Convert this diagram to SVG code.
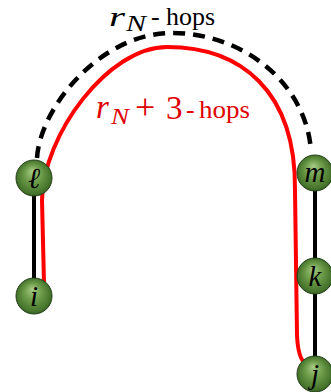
<svg xmlns="http://www.w3.org/2000/svg" width="331" height="392" viewBox="0 0 331 392">
<style>
.lbl{font-family:"Liberation Serif","DejaVu Serif",serif;font-style:italic;font-size:29px;fill:#000;text-anchor:middle}
.ball{fill:url(#g);stroke:#24401a;stroke-width:1}
.link{stroke:#000;stroke-width:4;fill:none}
.math{font-family:"Liberation Serif","DejaVu Serif",serif;font-style:italic}
.rm{font-family:"Liberation Serif","DejaVu Serif",serif}
</style>
<defs>
<radialGradient id="g" cx="0.5" cy="0.5" r="0.55" fx="0.45" fy="0.3">
<stop offset="0" stop-color="#a6cc86"/>
<stop offset="0.45" stop-color="#6b9a48"/>
<stop offset="0.85" stop-color="#45732b"/>
<stop offset="1" stop-color="#2c4f1c"/>
</radialGradient>
</defs>
<g id="connectors">
<line class="link" x1="34" y1="178" x2="34" y2="296"/>
<line class="link" x1="315" y1="173" x2="315" y2="375"/>
<path d="M37 158 C40 108 100 33 172 33 C240 33 305 80 311 150" fill="none" stroke="#000" stroke-width="4.5" stroke-dasharray="12 8"/>
<path d="M44 283 L42 200 C43 135 108 47 167 47 C240 47 296 90 295 190 L297 335 Q298 358 305 363" fill="none" stroke="#ff0000" stroke-width="4"/>
</g>
<g id="label-black">
<text x="109" y="26" class="math" font-size="28" textLength="16" lengthAdjust="spacingAndGlyphs">r</text>
<text x="126" y="31" class="math" font-size="24" textLength="20" lengthAdjust="spacingAndGlyphs">N</text>
<text x="151" y="25" class="rm" font-size="26">-</text>
<text x="166" y="25" class="rm" font-size="26" textLength="49" lengthAdjust="spacingAndGlyphs">hops</text>
</g>
<g id="label-red">
<text x="96" y="118" class="math" font-size="33" fill="#e00000">r</text>
<text x="111" y="124" class="math" font-size="24" fill="#e00000" textLength="18" lengthAdjust="spacingAndGlyphs">N</text>
<text x="135" y="119" class="rm" font-size="36" fill="#e00000">+</text>
<text x="166" y="119" class="rm" font-size="33" fill="#e00000">3</text>
<text x="186" y="118" class="rm" font-size="26" fill="#e00000">-</text>
<text x="199" y="118" class="rm" font-size="26" fill="#e00000" textLength="51" lengthAdjust="spacingAndGlyphs">hops</text>
</g>
<g id="node-l"><circle class="ball" cx="34" cy="178" r="18"/><text class="lbl" x="34" y="188">ℓ</text></g>
<g id="node-i"><circle class="ball" cx="34" cy="296" r="18"/><text class="lbl" x="34" y="306">i</text></g>
<g id="node-m"><circle class="ball" cx="315" cy="173" r="18"/><text class="lbl" x="315" y="182">m</text></g>
<g id="node-k"><circle class="ball" cx="315" cy="276" r="18"/><text class="lbl" x="315" y="286">k</text></g>
<g id="node-j"><circle class="ball" cx="315" cy="374" r="18"/><text class="lbl" x="315" y="384">j</text></g>
</svg>
